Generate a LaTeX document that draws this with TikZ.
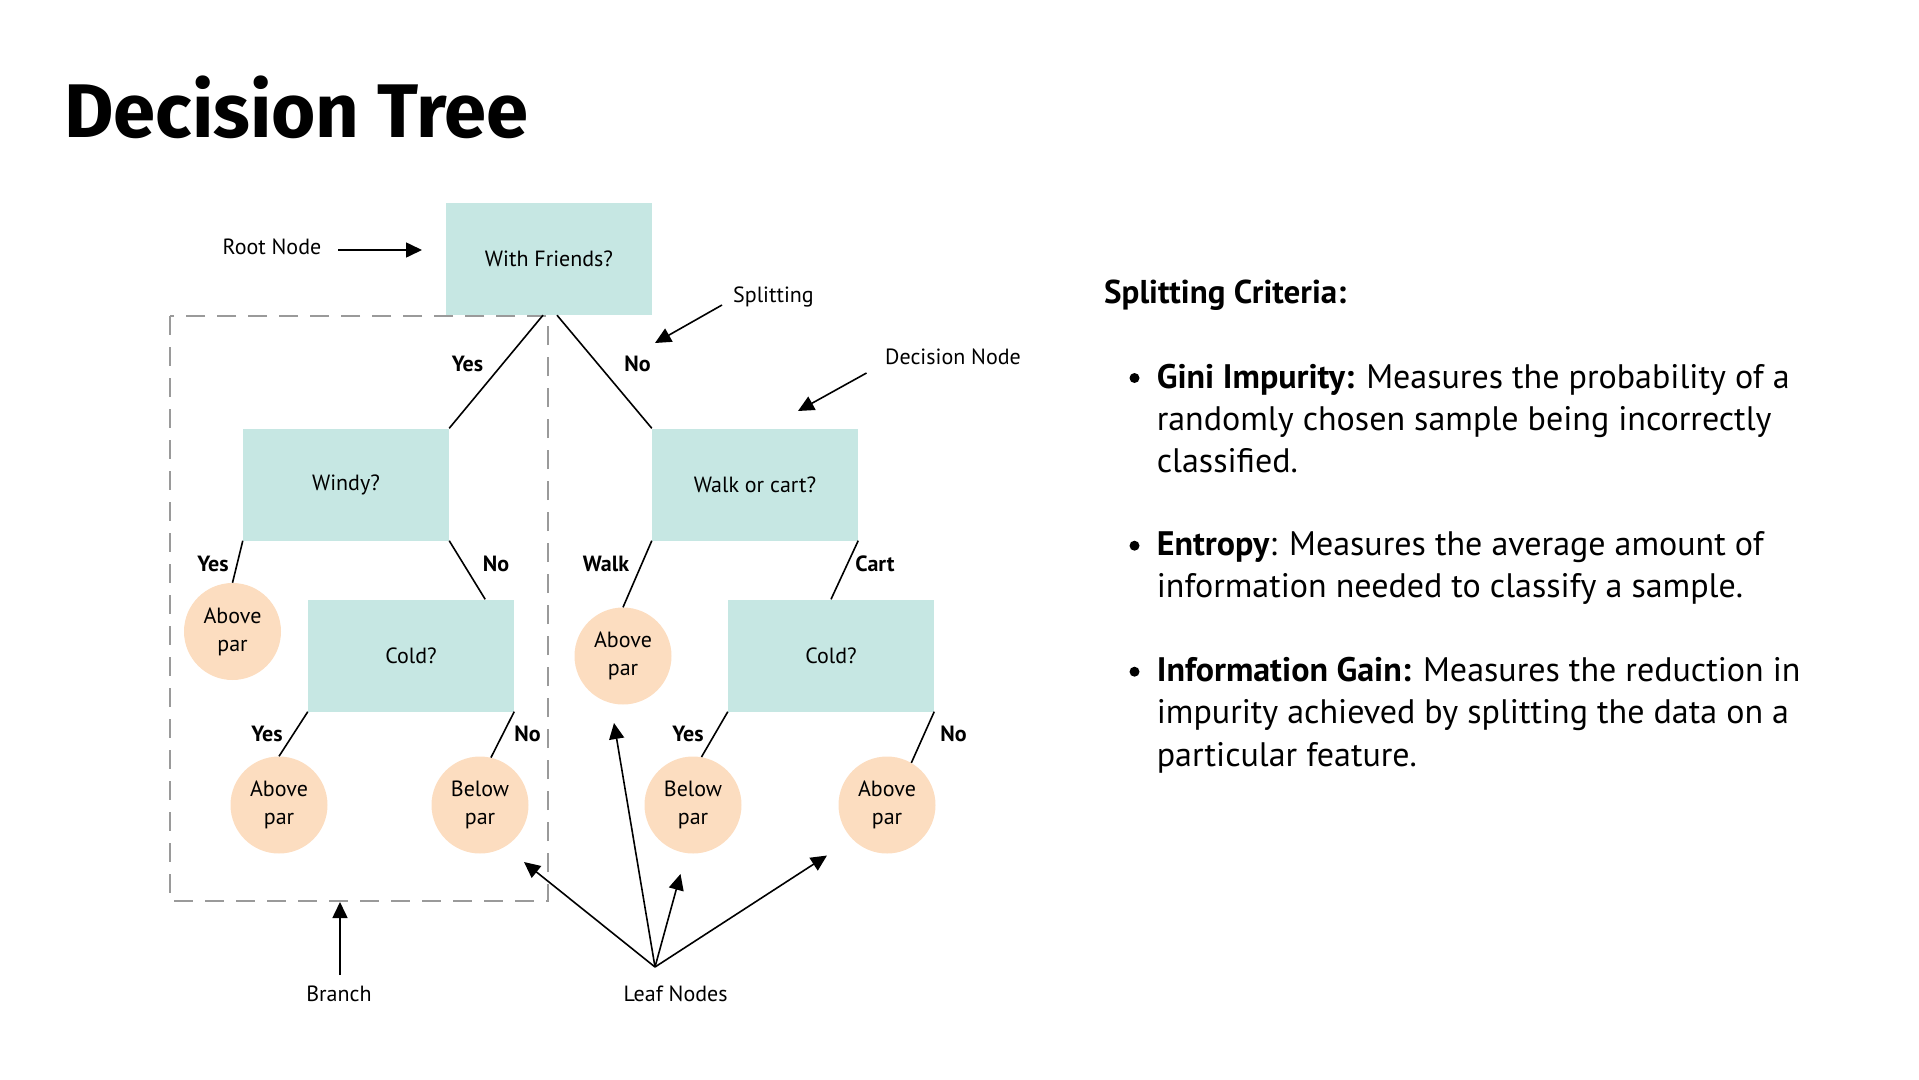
\documentclass[tikz,border=0pt]{standalone}
\usepackage{fontspec}
\setmainfont{PT Sans}
\newfontfamily\titlefont{Fira Sans}
\usetikzlibrary{arrows.meta}
\definecolor{boxteal}{HTML}{C6E7E3}
\definecolor{leafpeach}{HTML}{FCDDC0}
\definecolor{branchgray}{HTML}{9A9A9A}

\begin{document}
\begin{tikzpicture}[x=1pt,y=-1pt,
  qbox/.style={fill=boxteal, minimum width=206pt, minimum height=112pt,
    inner sep=0pt, font=\fontsize{22}{26}\selectfont},
  leaf/.style={circle, fill=leafpeach, minimum size=97pt, inner sep=0pt,
    align=center, font=\fontsize{22}{28}\selectfont},
  edge/.style={line width=1.6pt},
  ans/.style={font=\bfseries\fontsize{22}{26}\selectfont, inner sep=0pt},
  callout/.style={font=\fontsize{22}{26}\selectfont, inner sep=0pt},
  pointer/.style={line width=1.6pt, -{Triangle[length=16pt,width=15pt]}},
  body/.style={anchor=base west, inner sep=0pt,
    font=\fontsize{34}{42}\selectfont},
  dot/.style={circle, fill=black, minimum size=10pt, inner sep=0pt},
]
\path[use as bounding box] (0,0) rectangle (1919,1079);

% title
\node[anchor=base west, inner sep=0pt, font=\titlefont\bfseries\fontsize{76}{80}\selectfont]
  (title) at (64,137) {Decision Tree};

% branch frame
\draw[branchgray, line width=1.5pt, dash pattern=on 19pt off 12pt]
  (170,316) rectangle (548,901);

% question nodes
\node[qbox] (root)  at (549,259)   {With Friends?};
\node[qbox] (windy) at (346,484.5) {Windy?};
\node[qbox] (walk)  at (755,484.5) {Walk or cart?};
\node[qbox] (coldL) at (411,655.5) {Cold?};
\node[qbox] (coldR) at (831,655.5) {Cold?};

% leaves
\node[leaf] (leafA) at (232.5,631.5) {Above\\par};
\node[leaf] (leafB) at (279,805)     {Above\\par};
\node[leaf] (leafC) at (480,805)     {Below\\par};
\node[leaf] (leafM) at (623,656)     {Above\\par};
\node[leaf] (leafD) at (693,805)     {Below\\par};
\node[leaf] (leafE) at (887,805)     {Above\\par};

% branches of the tree
\draw[edge] ([xshift=-6pt]root.south) -- (windy.north east);
\draw[edge] ([xshift=8pt]root.south)  -- (walk.north west);
\draw[edge] (windy.south west) -- (leafA.north);
\draw[edge] (windy.south east) -- ([xshift=-29pt]coldL.north east);
\draw[edge] (coldL.south west) -- (leafB.north);
\draw[edge] (coldL.south east) -- (leafC.77);
\draw[edge] (walk.south west)  -- (leafM.north);
\draw[edge] (walk.south east)  -- (coldR.north);
\draw[edge] (coldR.south west) -- (leafD.80);
\draw[edge] (coldR.south east) -- (leafE.60);

% answer labels
\node[ans] (a1) at (467.5,363.5) {Yes};
\node[ans] (a2) at (637.6,363.5) {No};
\node[ans] (a3) at (213,564)     {Yes};
\node[ans] (a4) at (496,564)     {No};
\node[ans] (a5) at (606,564)     {Walk};
\node[ans] (a6) at (875,564)     {Cart};
\node[ans] (a7) at (267,734)     {Yes};
\node[ans] (a8) at (527.5,734)   {No};
\node[ans] (a9) at (688,734)     {Yes};
\node[ans] (a10) at (953.5,734)  {No};

% callouts
\node[callout] (rootlbl)  at (272,247)   {Root Node};
\node[callout] (splitlbl) at (773.5,297) {Splitting};
\node[callout] (declbl)   at (953,357)   {Decision Node};
\node[callout] (branchlbl) at (339,994)  {Branch};
\node[callout] (leaflbl)  at (675.6,994) {Leaf Nodes};

\coordinate (rootTail)  at (338,250);
\coordinate (rootTip)   at (422,250);
\coordinate (splitTail) at (722,305);
\coordinate (splitTip)  at (655,343);
\coordinate (decTail)   at (866.5,373);
\coordinate (decTip)    at (798,411);
\coordinate (branchTail) at (340,975);
\coordinate (branchTip) at (340,902);
\coordinate (leafHub)   at (655,967);
\coordinate (tipC) at (524,862);
\coordinate (tipM) at (614,723);
\coordinate (tipD) at (680.5,874);
\coordinate (tipE) at (827,855.5);

\draw[pointer] (rootTail) -- (rootTip);
\draw[pointer] (splitTail) -- (splitTip);
\draw[pointer] (decTail) -- (decTip);
\draw[pointer] (branchTail) -- (branchTip);
\draw[pointer] (leafHub) -- (tipC);
\draw[pointer] (leafHub) -- (tipM);
\draw[pointer] (leafHub) -- (tipD);
\draw[pointer] (leafHub) -- (tipE);

% splitting criteria
\node[anchor=base west, inner sep=0pt, font=\bfseries\fontsize{33}{40}\selectfont]
  (crit) at (1104,303.5) {Splitting Criteria:};

\node[dot] (b1) at (1134.5,378) {};
\node[body] (gini1) at (1156.6,388)   {\textbf{Gini Impurity:} Measures the probability of a};
\node[body] (gini2) at (1156.6,430.2) {randomly chosen sample being incorrectly};
\node[body] (gini3) at (1156.6,472.4) {classified.};

\node[dot] (b2) at (1134.5,545.7) {};
\node[body] (ent1) at (1156.6,555.7) {\textbf{Entropy}: Measures the average amount of};
\node[body] (ent2) at (1156.6,597.9) {information needed to classify a sample.};

\node[dot] (b3) at (1134.5,671.7) {};
\node[body] (gain1) at (1156.6,681.7) {\textbf{Information Gain:} Measures the reduction in};
\node[body] (gain2) at (1156.6,723.9) {impurity achieved by splitting the data on a};
\node[body] (gain3) at (1156.6,766.1) {particular feature.};
\end{tikzpicture}
\end{document}
